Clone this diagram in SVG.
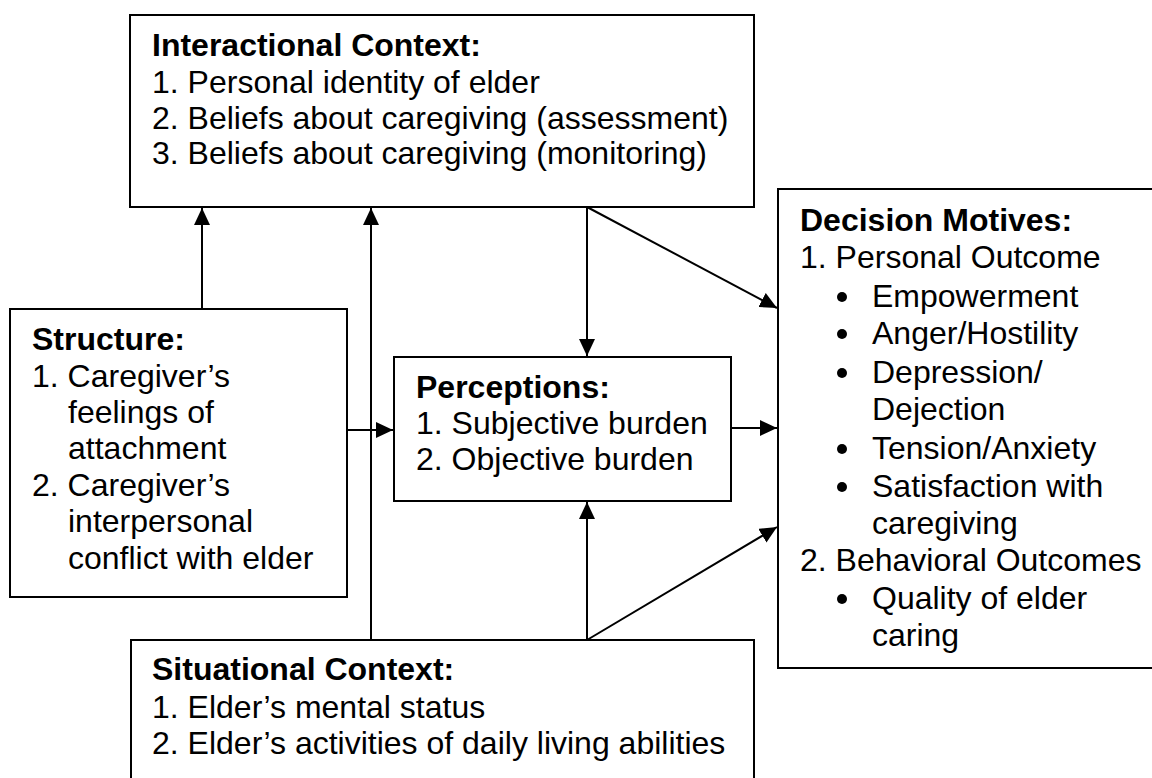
<svg xmlns="http://www.w3.org/2000/svg" width="1152" height="778" viewBox="0 0 1152 778">
  <style>
    .box { fill: #ffffff; stroke: #000000; stroke-width: 2; }
    .t { font-family: "Liberation Sans", Arial, sans-serif; font-size: 32px; fill: #000000; }
    .h { font-weight: bold; }
    .edge { stroke: #000000; stroke-width: 2; fill: none; marker-end: url(#arrow); }
  </style>
  <defs>
    <marker id="arrow" markerUnits="userSpaceOnUse" markerWidth="18" markerHeight="16" refX="17" refY="8" orient="auto">
      <path d="M0,0 L17,8 L0,16 Z" fill="#000000"/>
    </marker>
  </defs>

  <rect width="1152" height="778" fill="#ffffff"/>

  <!-- connectors -->
  <g id="connectors">
    <line class="edge" x1="202" y1="309" x2="202" y2="208"/>
    <line class="edge" x1="371" y1="640" x2="371" y2="208"/>
    <line class="edge" x1="587" y1="207" x2="587" y2="356"/>
    <line class="edge" x1="587" y1="207" x2="777" y2="308"/>
    <line class="edge" x1="347" y1="430" x2="393" y2="430"/>
    <line class="edge" x1="731" y1="428" x2="777" y2="428"/>
    <line class="edge" x1="587" y1="640" x2="587" y2="502"/>
    <line class="edge" x1="587" y1="640" x2="777" y2="527"/>
  </g>

  <!-- Interactional Context -->
  <g id="interactional">
    <rect class="box" x="130" y="15" width="624" height="192"/>
    <text class="t h" x="152" y="56">Interactional Context:</text>
    <text class="t" x="152" y="93">1. Personal identity of elder</text>
    <text class="t" x="152" y="129">2. Beliefs about caregiving (assessment)</text>
    <text class="t" x="152" y="164">3. Beliefs about caregiving (monitoring)</text>
  </g>

  <!-- Structure -->
  <g id="structure">
    <rect class="box" x="10" y="309" width="337" height="288"/>
    <text class="t h" x="32" y="350">Structure:</text>
    <text class="t" x="32" y="387">1. Caregiver’s</text>
    <text class="t" x="68" y="423">feelings of</text>
    <text class="t" x="68" y="459">attachment</text>
    <text class="t" x="32" y="496">2. Caregiver’s</text>
    <text class="t" x="68" y="532">interpersonal</text>
    <text class="t" x="68" y="569">conflict with elder</text>
  </g>

  <!-- Perceptions -->
  <g id="perceptions">
    <rect class="box" x="394" y="357" width="337" height="144"/>
    <text class="t h" x="416" y="398">Perceptions:</text>
    <text class="t" x="416" y="434">1. Subjective burden</text>
    <text class="t" x="416" y="470">2. Objective burden</text>
  </g>

  <!-- Situational Context -->
  <g id="situational">
    <rect class="box" x="131" y="640" width="623" height="150"/>
    <text class="t h" x="152" y="680">Situational Context:</text>
    <text class="t" x="152" y="718">1. Elder’s mental status</text>
    <text class="t" x="152" y="754">2. Elder’s activities of daily living abilities</text>
  </g>

  <!-- Decision Motives -->
  <g id="decision">
    <rect class="box" x="778" y="189" width="380" height="479"/>
    <text class="t h" x="800" y="231">Decision Motives:</text>
    <text class="t" x="800" y="268">1. Personal Outcome</text>
    <circle cx="842" cy="297" r="5"/>
    <text class="t" x="872" y="307">Empowerment</text>
    <circle cx="842" cy="334" r="5"/>
    <text class="t" x="872" y="344">Anger/Hostility</text>
    <circle cx="842" cy="373" r="5"/>
    <text class="t" x="872" y="383">Depression/</text>
    <text class="t" x="872" y="420">Dejection</text>
    <circle cx="842" cy="449" r="5"/>
    <text class="t" x="872" y="459">Tension/Anxiety</text>
    <circle cx="842" cy="487" r="5"/>
    <text class="t" x="872" y="497">Satisfaction with</text>
    <text class="t" x="872" y="534">caregiving</text>
    <text class="t" x="800" y="571">2. Behavioral Outcomes</text>
    <circle cx="842" cy="599" r="5"/>
    <text class="t" x="872" y="609">Quality of elder</text>
    <text class="t" x="872" y="646">caring</text>
  </g>
</svg>
